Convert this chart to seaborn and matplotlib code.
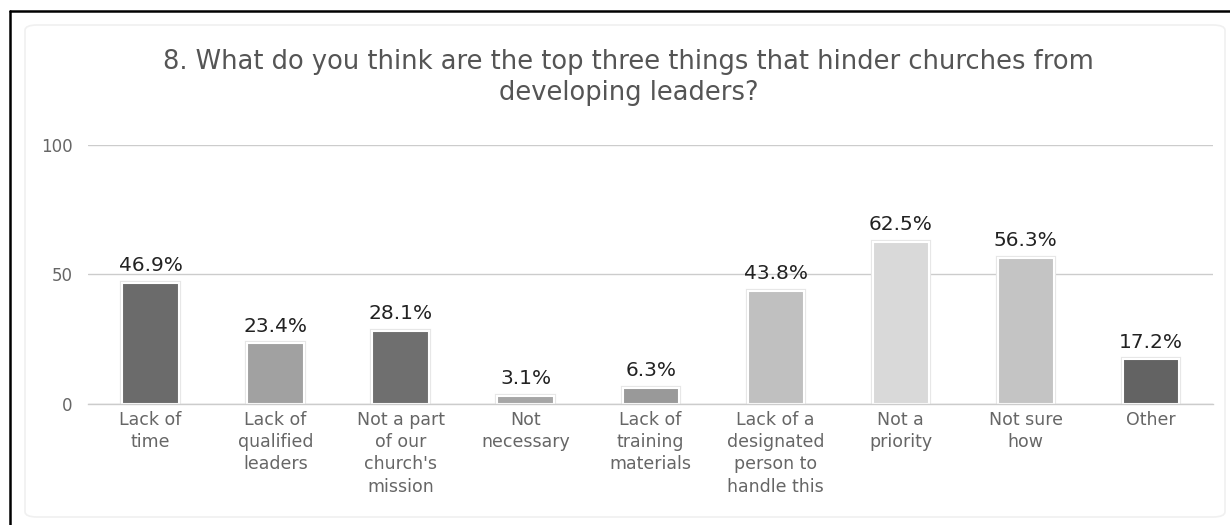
import matplotlib
matplotlib.use("Agg")
import matplotlib.pyplot as plt
import seaborn as sns
import pandas as pd
import numpy as np
from matplotlib.lines import Line2D
from matplotlib.patches import FancyBboxPatch
import matplotlib.patheffects as pe

categories = ["Lack of\ntime", "Lack of\nqualified\nleaders", "Not a part\nof our\nchurch's\nmission",
              "Not\nnecessary", "Lack of\ntraining\nmaterials", "Lack of a\ndesignated\nperson to\nhandle this",
              "Not a\npriority", "Not sure\nhow", "Other"]
values = [46.9, 23.4, 28.1, 3.1, 6.3, 43.8, 62.5, 56.3, 17.2]
value_labels = ["46.9%", "23.4%", "28.1%", "3.1%", "6.3%", "43.8%", "62.5%", "56.3%", "17.2%"]
bar_colors = ["#6b6b6b", "#a1a1a1", "#6f6f6f", "#a6a6a6", "#999999", "#c0c0c0", "#d9d9d9", "#c4c4c4", "#636363"]
yticks = [0, 50, 100]
title = "8. What do you think are the top three things that hinder churches from\ndeveloping leaders?"

sns.set_theme(style="white")
plt.rcParams['font.family'] = ['DejaVu Sans']

df = pd.DataFrame({"cat": categories, "val": values})

fig = plt.figure(figsize=(12.3, 5.25), dpi=100)
ax = fig.add_axes([0.0715, 0.2305, 0.915, 0.4933])

sns.barplot(data=df, x="cat", y="val", hue="cat", palette=bar_colors, legend=False,
            width=0.45, ax=ax, edgecolor="white", linewidth=1.5, saturation=1)

for p in ax.patches:
    p.set_path_effects([pe.Stroke(linewidth=3, foreground="#e6e6e6"), pe.Normal()])

for i, (v, lab) in enumerate(zip(values, value_labels)):
    ax.text(i, v + 3.0, lab, ha="center", va="bottom", fontsize=14.5, color="#222222")

ax.set_ylim(0, 100)
ax.set_xlim(-0.5, len(categories) - 0.5)
ax.set_yticks(yticks)
ax.set_yticklabels([str(t) for t in yticks], fontsize=12, color="#666666")
ax.tick_params(axis="y", length=0, pad=11)
ax.yaxis.grid(True, color="#cccccc", linewidth=1)
ax.set_axisbelow(True)

ax.set_xticks(range(len(categories)))
ax.set_xticklabels(categories, fontsize=12.5, color="#666666", linespacing=1.3)
ax.tick_params(axis="x", which="major", length=0, pad=5)
ax.set_xticks(np.arange(-0.5, len(categories), 1.0), minor=True)
ax.tick_params(axis="x", which="minor", length=6, color="#cccccc", width=1)

ax.set_xlabel("")
ax.set_ylabel("")
for s in ["top", "right", "left"]:
    ax.spines[s].set_visible(False)
ax.spines["bottom"].set_color("#cccccc")
ax.spines["bottom"].set_linewidth(1)

fig.text(0.511, 0.906, title, ha="center", va="top", fontsize=18.5, color="#555555", linespacing=1.22)

# faint rounded inner panel
fig.patches.append(FancyBboxPatch((25 / 1230, 8 / 525), 1200 / 1230, 492 / 525,
                                  boxstyle="round,pad=0,rounding_size=0.01",
                                  transform=fig.transFigure, facecolor="none",
                                  edgecolor="#f0f0f0", linewidth=1.2, zorder=-1))
# black border left and top
fig.lines.append(Line2D([10 / 1230, 10 / 1230], [0, 1 - 11 / 525], transform=fig.transFigure,
                        color="black", linewidth=1.8))
fig.lines.append(Line2D([10 / 1230, 1], [1 - 11 / 525, 1 - 11 / 525], transform=fig.transFigure,
                        color="black", linewidth=1.8))

fig.savefig("out.png", dpi=100)
